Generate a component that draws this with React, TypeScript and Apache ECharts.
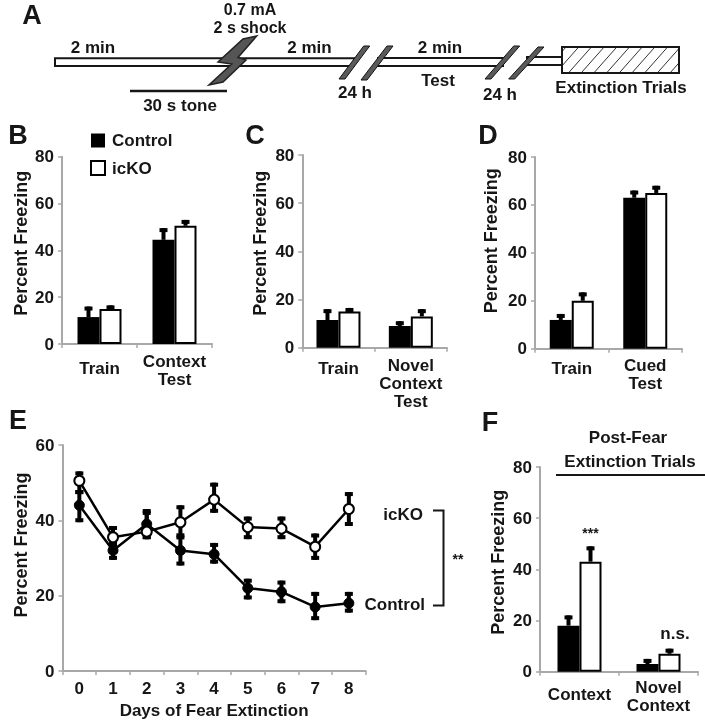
import React, { useEffect, useRef } from "react";
import * as echarts from "echarts";

const FONT = "Liberation Sans";
const INK = "#161616";
const AXIS = "#a8a8a8";

const catsB = ["Train", "Context\nTest"];
const catsC = ["Train", "Novel\nContext\nTest"];
const catsD = ["Train", "Cued\nTest"];
const catsF = ["Context", "Novel\nContext"];
const days = ["0", "1", "2", "3", "4", "5", "6", "7", "8"];

const ctrlB = [11.5, 44.5];
const ctrlBTop = [16, 49.5];
const koB = [15, 50.5];
const koBTop = [16.5, 53];

const ctrlC = [11.5, 9];
const ctrlCTop = [16, 11];
const koC = [15, 13];
const koCTop = [16.5, 16];

const ctrlD = [12, 63];
const ctrlDTop = [14.5, 66];
const koD = [20, 65];
const koDTop = [23.5, 68];

const ctrlF = [18, 3];
const ctrlFTop = [22, 5];
const koF = [43, 7];
const koFTop = [49, 9];

const ctrlE = [44, 32, 39, 32, 31, 22, 21, 17, 18];
const ctrlELow = [39.5, 29.5, 35, 28, 28.5, 19, 18, 13.5, 15.5];
const ctrlEHigh = [48, 35, 43, 36, 34, 24.5, 24, 21, 21];
const koE = [50.5, 35.5, 37, 39.5, 45.5, 38.2, 37.8, 33, 43];
const koELow = [47, 33, 35, 35.5, 42, 35, 35, 29.5, 38.5];
const koEHigh = [53, 38.5, 42.5, 44, 50, 41, 41, 36.5, 47.5];

const txt = (x: number, y: number, text: string, fontSize = 17, textAlign = "center", weight: string = "bold") => ({
  type: "text",
  x,
  y,
  silent: true,
  style: { text, fontSize, fontWeight: weight, fontFamily: FONT, fill: INK, textAlign, textVerticalAlign: "middle" },
});
const ln = (x1: number, y1: number, x2: number, y2: number, lineWidth = 2, stroke = INK) => ({
  type: "line",
  silent: true,
  shape: { x1, y1, x2, y2 },
  style: { stroke, lineWidth },
});
const box = (x: number, y: number, width: number, height: number, lineWidth = 2) => ({
  type: "rect",
  silent: true,
  shape: { x, y, width, height },
  style: { fill: "#fff", stroke: INK, lineWidth },
});
const slash = (x1: number, y1: number, x2: number, y2: number) => ({
  type: "polygon",
  silent: true,
  shape: { points: [[x1 - 3, y1], [x1 + 3, y1], [x2 + 3, y2], [x2 - 3, y2]] },
  style: { fill: "#5a5a5a", stroke: "#111", lineWidth: 1 },
});

function hatch(x0: number, x1: number, y0: number, y1: number) {
  const out: any[] = [];
  const rise = 23;
  for (let s = x0 - rise + 4; s < x1; s += 12.7) {
    let ax = s, ay = y1, bx = s + rise, by = y0;
    const k = (y0 - y1) / rise;
    if (ax < x0) { ay = y1 + (x0 - ax) * k; ax = x0; }
    if (bx > x1) { by = y0 - (bx - x1) * k; bx = x1; }
    out.push(ln(ax, ay, bx, by, 1, "#333"));
  }
  return out;
}

const shockLabel = txt(250, 18.5, "0.7 mA\n2 s shock", 16);
(shockLabel.style as any).lineHeight = 18.5;

const graphics = [
  // panel letters
  txt(32, 15, "A", 27, "center"),
  txt(18, 135, "B", 27, "center"),
  txt(255, 135, "C", 27, "center"),
  txt(488, 135, "D", 27, "center"),
  txt(18, 420, "E", 27, "center"),
  txt(490, 422, "F", 27, "center"),
  // panel A timeline
  box(55, 58.3, 299, 7.7),
  box(378, 58, 125, 8),
  box(527, 57, 35, 8),
  ...hatch(562, 679, 47, 73),
  { type: "rect", silent: true, shape: { x: 562, y: 47, width: 117, height: 26 }, style: { fill: "none", stroke: INK, lineWidth: 2 } },
  slash(342, 79, 366.7, 46),
  slash(364, 80, 390, 46),
  slash(488, 79, 516.7, 46),
  slash(511.7, 79, 541, 47),
  {
    type: "polygon",
    silent: true,
    shape: { points: [[256.7, 36], [243, 39], [218, 62], [231.7, 64], [209, 85], [223, 82], [246, 60], [238, 57.5]] },
    style: { fill: "#555", stroke: "#222", lineWidth: 1.5 },
  },
  ln(130, 91, 227, 91, 2.5),
  txt(93, 47.5, "2 min"),
  txt(309.5, 47.5, "2 min"),
  txt(440, 47.5, "2 min"),
  shockLabel,
  txt(180, 105, "30 s tone"),
  txt(438, 80, "Test"),
  txt(355, 92, "24 h"),
  txt(500, 94, "24 h"),
  txt(621, 87, "Extinction Trials"),
  // panel E bracket
  {
    type: "polyline",
    silent: true,
    shape: { points: [[433, 510.5], [443.5, 510.5], [443.5, 605.5], [433, 605.5]] },
    style: { stroke: INK, lineWidth: 2, fill: "none" },
  },
  txt(423, 514, "icKO", 17, "right"),
  txt(425, 604, "Control", 17, "right"),
  txt(458, 559, "**", 14),
  // panel F header
  txt(628, 437, "Post-Fear"),
  txt(630, 461, "Extinction Trials"),
  ln(556, 475, 705, 475, 2),
  txt(590.5, 533, "***", 14),
  txt(675, 633, "n.s."),
];

const grids = [
  { left: 62, top: 156.7, width: 150, height: 187.3 },
  { left: 302.3, top: 155, width: 144.7, height: 192.7 },
  { left: 535, top: 157, width: 147, height: 191.7 },
  { left: 62.5, top: 445, width: 303.2, height: 226.7 },
  { left: 540, top: 467, width: 158, height: 204.7 },
];

const shiftFor = (c: string, pad: number) => ({ value: c, textStyle: c.includes("\n") ? {} : { padding: [pad, 0, 0, 0] } });

const xAxisOf = (gridIndex: number, cats: string[], pad: number, margin: number, extra: any = {}) => ({
  type: "category",
  gridIndex,
  data: cats.map((c) => shiftFor(c, pad)),
  axisLine: { lineStyle: { color: AXIS, width: 2 } },
  axisTick: { show: true, length: 4, alignWithLabel: false, lineStyle: { color: AXIS, width: 1.5 } },
  axisLabel: { interval: 0, margin, fontSize: 17, fontWeight: "bold", fontFamily: FONT, color: INK, lineHeight: 18, verticalAlign: "top" },
  ...extra,
});

const yAxisOf = (gridIndex: number, max: number, shift: number, nameGap: number) => ({
  type: "value",
  gridIndex,
  min: 0,
  max,
  interval: 20,
  name: "Percent Freezing",
  nameLocation: "middle",
  nameGap,
  nameTextStyle: { fontSize: 18, fontWeight: "bold", fontFamily: FONT, color: INK, padding: [0, 0, 0, shift] },
  splitLine: { show: false },
  axisLine: { show: true, lineStyle: { color: AXIS, width: 2 } },
  axisTick: { show: true, length: 4, lineStyle: { color: AXIS, width: 1.5 } },
  axisLabel: { margin: 8, fontSize: 17, fontWeight: "bold", fontFamily: FONT, color: INK },
});

// Draws value-to-top error bars, or low-to-high ones, from each row [category, from, to].
const errorSeries = (gridIndex: number, rows: number[][], offset: number, stemW: number, z: number) => ({
  type: "custom",
  xAxisIndex: gridIndex,
  yAxisIndex: gridIndex,
  z,
  silent: true,
  data: rows,
  encode: { x: 0, y: [1, 2] },
  renderItem: (_: any, api: any) => {
    const from = api.coord([api.value(0), api.value(1)]);
    const to = api.coord([api.value(0), api.value(2)]);
    const x = from[0] + offset;
    const cap = (yy: number, down: boolean) => ({
      type: "rect",
      shape: { x: x - 4, y: down ? yy - 4 : yy, width: 8, height: 4 },
      style: { fill: "#000" },
    });
    const kids: any[] = [
      { type: "rect", shape: { x: x - stemW / 2, y: to[1], width: stemW, height: from[1] - to[1] }, style: { fill: "#000" } },
      cap(to[1], false),
    ];
    if (offset === 0) kids.push(cap(from[1], true));
    return { type: "group", children: kids };
  },
});

const barPair = (g: number, ctrl: number[], ctrlTop: number[], ko: number[], koTop: number[]) => [
  {
    type: "bar",
    name: "Control",
    xAxisIndex: g,
    yAxisIndex: g,
    data: ctrl,
    barWidth: 22,
    barGap: 0,
    z: 3,
    itemStyle: { color: "#000", borderColor: "#000", borderWidth: 0 },
  },
  {
    type: "bar",
    name: "icKO",
    xAxisIndex: g,
    yAxisIndex: g,
    data: ko,
    barWidth: 22,
    barGap: 0,
    z: 3,
    itemStyle: { color: "#fff", borderColor: "#000", borderWidth: 2 },
  },
  errorSeries(g, ctrl.map((v, i) => [i, v, ctrlTop[i]]), -11, 4, 2),
  errorSeries(g, ko.map((v, i) => [i, v, koTop[i]]), 11, 4, 2),
];

const option: any = {
  animation: false,
  backgroundColor: "#fff",
  grid: grids,
  legend: {
    left: 90,
    top: 132,
    padding: 0,
    orient: "vertical",
    align: "left",
    icon: "rect",
    itemWidth: 14,
    itemHeight: 14,
    itemGap: 10.5,
    selectedMode: false,
    data: ["Control", "icKO"],
    textStyle: { fontSize: 17, fontWeight: "bold", fontFamily: FONT, color: INK, padding: [0, 0, 0, 2] },
  },
  xAxis: [
    xAxisOf(0, catsB, 7, 8),
    xAxisOf(1, catsC, 3, 9),
    xAxisOf(2, catsD, 3, 8),
    xAxisOf(3, days, 0, 8, {
      name: "Days of Fear Extinction",
      nameLocation: "middle",
      nameGap: 31,
      nameTextStyle: { fontSize: 17, fontWeight: "bold", fontFamily: FONT, color: INK },
    }),
    xAxisOf(4, catsF, 7, 7),
  ],
  yAxis: [yAxisOf(0, 80, 14, 32), yAxisOf(1, 80, 16, 33), yAxisOf(2, 80, 24, 35), yAxisOf(3, 60, 26, 33), yAxisOf(4, 80, 14, 33)],
  series: [
    ...barPair(0, ctrlB, ctrlBTop, koB, koBTop),
    ...barPair(1, ctrlC, ctrlCTop, koC, koCTop),
    ...barPair(2, ctrlD, ctrlDTop, koD, koDTop),
    ...barPair(4, ctrlF, ctrlFTop, koF, koFTop),
    errorSeries(3, ctrlE.map((_, i) => [i, ctrlELow[i], ctrlEHigh[i]]), 0, 4, 2),
    errorSeries(3, koE.map((_, i) => [i, koELow[i], koEHigh[i]]), 0, 4, 2),
    {
      type: "line",
      name: "Control",
      xAxisIndex: 3,
      yAxisIndex: 3,
      data: ctrlE,
      symbol: "circle",
      symbolSize: 10,
      z: 4,
      lineStyle: { color: "#000", width: 2.5 },
      itemStyle: { color: "#000", borderColor: "#000", borderWidth: 1 },
    },
    {
      type: "line",
      name: "icKO",
      xAxisIndex: 3,
      yAxisIndex: 3,
      data: koE,
      symbol: "circle",
      symbolSize: 10,
      z: 5,
      lineStyle: { color: "#000", width: 2.5 },
      itemStyle: { color: "#fff", borderColor: "#000", borderWidth: 2 },
    },
  ],
  graphic: { elements: graphics },
};

export default function App() {
  const ref = useRef<HTMLDivElement>(null);
  useEffect(() => {
    document.body.style.margin = "0";
    const chart = echarts.init(ref.current!, undefined, { renderer: "svg" });
    chart.setOption(option);
    return () => chart.dispose();
  }, []);
  return <div ref={ref} style={{ width: 705, height: 720, filter: "blur(0.35px)" }} />;
}
